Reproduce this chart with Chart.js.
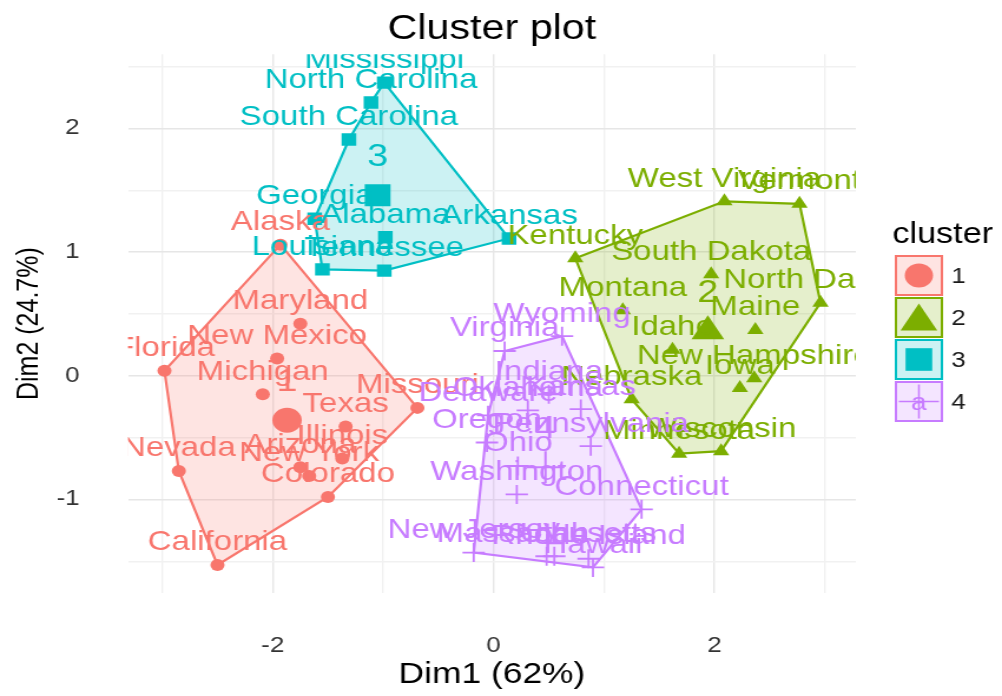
<!DOCTYPE html>
<html>
<head>
<meta charset="utf-8">
<script src="https://cdn.jsdelivr.net/npm/chart.js@4.4.1/dist/chart.umd.min.js"></script>
<style>
  html, body { margin: 0; padding: 0; background: #fff; overflow: hidden; }
</style>
</head>
<body>
<!-- o gráfico original é esticado na horizontal: canvas de 850px exibido com 1002px -->
<canvas id="grafico" width="850" height="696" style="display:block;width:1002px;height:696px"></canvas>
<script>
// Dados (coordenadas)
const estados = ['Alabama', 'Alaska', 'Arizona', 'Arkansas', 'California', 'Colorado', 'Connecticut', 'Delaware',
  'Florida', 'Georgia', 'Hawaii', 'Idaho', 'Illinois', 'Indiana', 'Iowa', 'Kansas', 'Kentucky', 'Louisiana',
  'Maine', 'Maryland', 'Massachusetts', 'Michigan', 'Minnesota', 'Mississippi', 'Missouri', 'Montana',
  'Nebraska', 'Nevada', 'New Hampshire', 'New Jersey', 'New Mexico', 'New York', 'North Carolina',
  'North Dakota', 'Ohio', 'Oklahoma', 'Oregon', 'Pennsylvania', 'Rhode Island', 'South Carolina',
  'South Dakota', 'Tennessee', 'Texas', 'Utah', 'Vermont', 'Virginia', 'Washington', 'West Virginia',
  'Wisconsin', 'Wyoming'];
const dim1 = [-0.98, -1.93, -1.75, 0.14, -2.50, -1.50, 1.34, -0.05, -2.98, -1.62, 0.90, 1.62, -1.37, 0.50, 2.23,
  0.79, 0.74, -1.55, 2.37, -1.75, 0.48, -2.09, 1.68, -0.99, -0.69, 1.17, 1.25, -2.85, 2.36, -0.18, -1.96,
  -1.67, -1.11, 2.96, 0.22, 0.31, -0.06, 0.88, 0.86, -1.31, 1.97, -0.99, -1.34, 0.55, 2.77, 0.10, 0.21,
  2.09, 2.06, 0.62];
const dim2 = [1.12, 1.06, -0.74, 1.11, -1.53, -0.98, -1.08, -0.32, 0.04, 1.27, -1.55, 0.21, -0.67, -0.15, -0.10,
  -0.27, 0.95, 0.86, 0.37, 0.42, -1.46, -0.15, -0.63, 2.37, -0.26, 0.53, -0.19, -0.77, -0.02, -1.43, 0.14,
  -0.81, 2.21, 0.59, -0.73, -0.28, -0.54, -0.57, -1.48, 1.91, 0.82, 0.85, -0.41, -1.46, 1.39, 0.20, -0.96,
  1.41, -0.61, 0.32];
const grupo = [3, 1, 1, 3, 1, 1, 4, 4, 1, 3, 4, 2, 1, 4, 2, 4, 2, 3, 2, 1, 4, 1, 2, 3, 1, 2, 2, 1, 2, 4, 1, 1, 3,
  2, 4, 4, 4, 4, 4, 3, 2, 3, 1, 4, 2, 4, 4, 2, 2, 4];
const nomesCluster = ['1', '2', '3', '4'];
const centroDim1 = [-1.87, 1.94, -1.05, 0.47];
const centroDim2 = [-0.36, 0.36, 1.46, -0.74];
const contornos = [
  ['Alaska', 'Missouri', 'Colorado', 'California', 'Nevada', 'Florida'],
  ['Kentucky', 'West Virginia', 'Vermont', 'North Dakota', 'Wisconsin', 'Minnesota', 'Nebraska'],
  ['Mississippi', 'Arkansas', 'Tennessee', 'Louisiana', 'Georgia', 'South Carolina', 'North Carolina'],
  ['Wyoming', 'Connecticut', 'Hawaii', 'New Jersey', 'Delaware', 'Virginia']
];
const ticksX = [-3, -2, -1, 0, 1, 2, 3];
const rotulosX = [-2, 0, 2];
const ticksY = [-1.5, -1, -0.5, 0, 0.5, 1, 1.5, 2, 2.5];
const rotulosY = [-1, 0, 1, 2];

// Estilo
const fonte = '"Liberation Sans", Arial, Helvetica, sans-serif';
const cores = ['#F8766D', '#7CAE00', '#00BFC4', '#C77CFF'];
const preenchimentos = ['rgba(248,118,109,0.2)', 'rgba(124,174,0,0.2)', 'rgba(0,191,196,0.2)', 'rgba(199,124,255,0.2)'];
const formas = ['circle', 'triangle', 'rect', 'cross'];
const raios = [6, 8, 8.8, 9.5];
const raiosCentro = [12.5, 16, 15.5, 16];
const raiosLegenda = [12, 18, 16, 17];
const gradeMaior = '#e6e6e6';
const gradeMenor = '#f1f1f1';

Chart.defaults.font.family = fonte;

const datasets = [];
nomesCluster.forEach((nome, k) => {
    const membros = estados.map((e, i) => i).filter(i => grupo[i] === k + 1);
    const casco = contornos[k].map(e => estados.indexOf(e));
    casco.push(casco[0]);

    // Contorno (convex hull)
    datasets.push({
        type: 'line',
        data: casco.map(i => ({ x: dim1[i], y: dim2[i] })),
        borderColor: cores[k],
        backgroundColor: preenchimentos[k],
        borderWidth: 2.2,
        fill: 'shape',
        pointRadius: 0,
        tension: 0,
        order: 3
    });

    // Pontos dos estados
    datasets.push({
        type: 'scatter',
        data: membros.map(i => ({ x: dim1[i], y: dim2[i] })),
        rotulos: membros.map(i => estados[i]),
        rotuloFonte: '28px ' + fonte,
        rotuloDesvio: 14.5,
        pointStyle: formas[k],
        pointRadius: raios[k],
        backgroundColor: cores[k],
        borderColor: cores[k],
        borderWidth: k === 3 ? 1.8 : 0,
        order: 2
    });

    // Centro do cluster
    datasets.push({
        type: 'scatter',
        data: [{ x: centroDim1[k], y: centroDim2[k] }],
        rotulos: [nome],
        rotuloFonte: '32px ' + fonte,
        rotuloDesvio: 29,
        pointStyle: formas[k],
        pointRadius: raiosCentro[k],
        backgroundColor: cores[k],
        borderColor: cores[k],
        borderWidth: k === 3 ? 2 : 0,
        order: 1
    });
});

const rotulosPlugin = {
    id: 'rotulos',
    afterDatasetsDraw(chart) {
        const { ctx, chartArea } = chart;
        ctx.save();
        ctx.beginPath();
        ctx.rect(chartArea.left, chartArea.top, chartArea.right - chartArea.left, chartArea.bottom - chartArea.top);
        ctx.clip();
        ctx.textAlign = 'center';
        ctx.textBaseline = 'alphabetic';
        chart.data.datasets.forEach((ds, i) => {
            if (!ds.rotulos) return;
            const meta = chart.getDatasetMeta(i);
            ctx.font = ds.rotuloFonte;
            ctx.fillStyle = ds.borderColor;
            meta.data.forEach((pt, j) => ctx.fillText(ds.rotulos[j], pt.x, pt.y - ds.rotuloDesvio));
        });
        ctx.restore();
    }
};

const legendaPlugin = {
    id: 'legenda',
    afterDraw(chart) {
        const ctx = chart.ctx;
        const x0 = 759, y0 = 255, lado = 41, passo = 42;
        ctx.save();
        ctx.fillStyle = '#000';
        ctx.font = '29px ' + fonte;
        ctx.textAlign = 'left';
        ctx.textBaseline = 'alphabetic';
        ctx.fillText('cluster', x0 - 2, 243);

        nomesCluster.forEach((nome, k) => {
            const y = y0 + k * passo;
            const cx = x0 + lado / 2, cy = y + lado / 2;
            ctx.fillStyle = preenchimentos[k];
            ctx.fillRect(x0, y, lado, lado);
            ctx.strokeStyle = cores[k];
            ctx.lineWidth = 2;
            ctx.strokeRect(x0 + 1, y + 1, lado - 2, lado - 2);

            ctx.fillStyle = cores[k];
            ctx.font = '24px ' + fonte;
            ctx.textAlign = 'center';
            ctx.textBaseline = 'middle';
            ctx.fillText('a', cx, cy + 2);

            ctx.lineWidth = 1.5;
            const dy = formas[k] === 'triangle' ? 4 : 0;
            Chart.helpers.drawPoint(ctx, {
                pointStyle: formas[k], radius: raiosLegenda[k], rotation: 0,
                borderWidth: k === 3 ? 1.5 : 0
            }, cx, cy + dy);

            ctx.fillStyle = '#1a1a1a';
            ctx.font = '22px ' + fonte;
            ctx.textAlign = 'left';
            ctx.fillText(nome, x0 + lado + 7, cy + 1);
        });
        ctx.restore();
    }
};

new Chart(document.getElementById('grafico'), {
    type: 'scatter',
    data: { datasets },
    plugins: [rotulosPlugin, legendaPlugin],
    options: {
        responsive: false,
        animation: false,
        layout: { padding: { top: 0, right: 124, bottom: 0, left: 0 } },
        plugins: {
            legend: { display: false },
            tooltip: { enabled: false },
            title: {
                display: true,
                fullSize: false,
                text: 'Cluster plot',
                color: '#000',
                font: { size: 35, weight: 'normal' },
                padding: { top: 4, bottom: 4 }
            }
        },
        scales: {
            x: {
                type: 'linear',
                min: -3.31,
                max: 3.28,
                afterBuildTicks: s => { s.ticks = ticksX.map(v => ({ value: v })); },
                afterFit: s => { s.height = 103; },
                border: { display: false },
                grid: {
                    drawTicks: false,
                    lineWidth: 1.4,
                    color: c => (c.tick && rotulosX.includes(c.tick.value)) ? gradeMaior : gradeMenor
                },
                ticks: {
                    autoSkip: false,
                    maxRotation: 0,
                    padding: 40,
                    color: '#333',
                    font: { size: 22 },
                    callback: v => rotulosX.includes(v) ? String(v) : ''
                },
                title: {
                    display: true,
                    text: 'Dim1 (62%)',
                    color: '#000',
                    font: { size: 30 },
                    padding: { top: 0, bottom: 3 }
                }
            },
            y: {
                type: 'linear',
                min: -1.757,
                max: 2.6,
                afterBuildTicks: s => { s.ticks = ticksY.map(v => ({ value: v })); },
                afterFit: s => { s.width = 108.6; },
                border: { display: false },
                grid: {
                    drawTicks: false,
                    lineWidth: 1.4,
                    color: c => (c.tick && rotulosY.includes(c.tick.value)) ? gradeMaior : gradeMenor
                },
                ticks: {
                    autoSkip: false,
                    padding: 41,
                    color: '#333',
                    font: { size: 22 },
                    callback: v => rotulosY.includes(v) ? String(v) : ''
                },
                title: {
                    display: true,
                    text: 'Dim2 (24.7%)',
                    color: '#000',
                    font: { size: 25 },
                    padding: { top: 10, bottom: 0 }
                }
            }
        }
    }
});
</script>
</body>
</html>
